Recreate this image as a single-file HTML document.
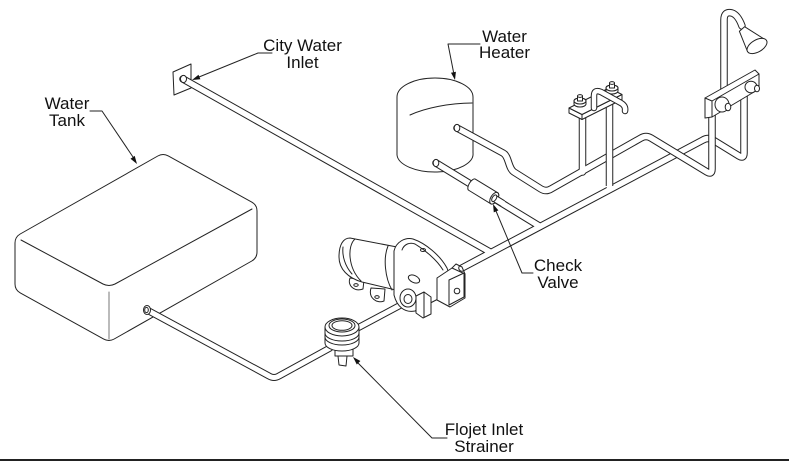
<!DOCTYPE html>
<html><head><meta charset="utf-8"><style>
html,body{margin:0;padding:0;background:#fff;}
svg{display:block;}
text{font-family:"Liberation Sans",Arial,sans-serif;font-size:17px;fill:#111;}
</style></head><body>
<svg width="789" height="463" viewBox="0 0 789 463" xmlns="http://www.w3.org/2000/svg">
<g fill="none" stroke="#222" stroke-width="1" stroke-linejoin="round" stroke-linecap="round">

<!-- Water tank -->
<path fill="#fff" d="M20.2 234 L157.8 156 Q163 153 168.3 155.9 L251.7 202.1 Q257 205 257 211 L257 252 Q257 258 251.8 261 L114.2 339 Q109 342 103.7 339.1 L20.3 292.9 Q15 290 15 284 L15 243 Q15 237 20.2 234 Z"/>
<path d="M21 240 L103 284 Q109 287 115 284 L252 209"/>
<path stroke="#777" d="M109 292 L109 339"/>

<!-- tank outlet pipe -->
<path stroke="#222" stroke-width="7" d="M147 310 L269 376 Q274 379 279 376 L330 348"/>
<path stroke="#fff" stroke-width="5" d="M147 310 L269 376 Q274 379 279 376 L330 348"/>
<ellipse cx="147" cy="310" rx="3.5" ry="4.5" fill="#fff"/>
<ellipse cx="146.5" cy="310" rx="1.8" ry="2.6"/>

<!-- strainer to pump pipe -->
<path stroke="#222" stroke-width="7" d="M352 331 L412 299"/>
<path stroke="#fff" stroke-width="5" d="M352 331 L412 299"/>

<!-- city inlet plate -->
<path fill="#fff" d="M173 72 L191 64 L191 88 L174 95 Z"/>

<!-- water heater -->
<path fill="#fff" d="M397 97 A38 19 0 0 1 473 97 L473 153 A38 18 0 0 1 397 155 Z"/>
<path d="M410 115 C425 108 450 103 472 103"/>

<!-- cold network -->
<g stroke="#222" stroke-width="7.5">
<path d="M183 79 L490 252"/>
<path d="M462 268 L703 140 Q708 137 713 140 L739 156 Q744 159 744 153 L744 92"/>
<path d="M436 163 L540 226.5"/>
</g>
<g stroke="#fff" stroke-width="5.5">
<path d="M183 79 L490 252"/>
<path d="M462 268 L703 140 Q708 137 713 140 L739 156 Q744 159 744 153 L744 92"/>
<path d="M436 163 L540 226.5"/>
</g>
<ellipse cx="183.5" cy="79" rx="3" ry="3.6" fill="#fff"/>
<ellipse cx="436" cy="163" rx="2.8" ry="3.6" fill="#fff"/>

<!-- check valve -->
<g transform="translate(484,192) rotate(31.4)">
<path fill="#fff" d="M-14 -6.5 L12 -6.5 A3.5 6.5 0 0 1 12 6.5 L-14 6.5 A3 6.5 0 0 1 -14 -6.5 Z"/>
<ellipse cx="12" cy="0" rx="3.5" ry="6.5" fill="#fff"/>
<path stroke="#222" stroke-width="7.5" stroke-linecap="butt" d="M12 0 L22 0"/>
<path stroke="#fff" stroke-width="5.5" stroke-linecap="butt" d="M11 0 L23 0"/>
<ellipse cx="12" cy="0" rx="2" ry="3.7" fill="#fff"/>
</g>

<!-- hot network -->
<g stroke="#222" stroke-width="7.5">
<path d="M457 128 L503 153 C509 156 508 168 514 172 L541 189 Q546 192 551 189 L641 138 Q646 135 651 138 L707 172 Q712 175 712 169 L712 115"/>
<path d="M582.5 116 L582.5 172"/>
</g>
<g stroke="#fff" stroke-width="5.5">
<path d="M457 128 L503 153 C509 156 508 168 514 172 L541 189 Q546 192 551 189 L641 138 Q646 135 651 138 L707 172 Q712 175 712 169 L712 115"/>
<path d="M582.5 116 L582.5 172"/>
</g>
<ellipse cx="457" cy="128" rx="2.8" ry="3.6" fill="#fff"/>

<!-- faucet cold vertical (in front of hot line) -->
<path stroke="#222" stroke-width="7.5" stroke-linecap="butt" d="M609.5 104 L609.5 186"/>
<path stroke="#fff" stroke-width="5.5" stroke-linecap="butt" d="M609.5 104 L609.5 188.5"/>

<!-- sink faucet -->
<path fill="#fff" d="M569 108 L582 114.5 L582 119.5 L569 113 Z"/>
<path fill="#fff" d="M582 114.5 L622 94.5 L622 99.5 L582 119.5 Z"/>
<path fill="#fff" d="M569 108 L609 88 L622 94.5 L582 114.5 Z"/>
<path fill="#fff" d="M574 104 L574 101 A6 3 0 0 1 586 101 L586 104 A6 3 0 0 1 574 104 Z"/>
<ellipse cx="580" cy="101" rx="6" ry="3" fill="#fff"/>
<path fill="#fff" d="M577.5 101 L577.5 96 L582.5 96 L582.5 101 Z"/>
<ellipse cx="580" cy="96" rx="2.5" ry="1.4" fill="#fff"/>
<path fill="#fff" d="M606 91 L606 88 A6 3 0 0 1 618 88 L618 91 A6 3 0 0 1 606 91 Z"/>
<ellipse cx="612" cy="88" rx="6" ry="3" fill="#fff"/>
<path fill="#fff" d="M609.5 88 L609.5 83 L614.5 83 L614.5 88 Z"/>
<ellipse cx="612" cy="83" rx="2.5" ry="1.4" fill="#fff"/>
<path stroke="#222" stroke-width="6.5" d="M594 108 L594 96 Q594 89 601 92 L621 103 Q626 106 625 111"/>
<path stroke="#fff" stroke-width="4.5" d="M594 108 L594 96 Q594 89 601 92 L621 103 Q626 106 625 111"/>

<!-- shower riser and head -->
<path stroke="#222" stroke-width="7.5" d="M724 100 L724 20 Q724 11 732 13 Q738 15 742 26"/>
<path stroke="#fff" stroke-width="5.5" d="M724 100 L724 20 Q724 11 732 13 Q738 15 742 26"/>
<path fill="#fff" d="M744.6 26.7 L766.5 40.5 L747.5 51.5 L739.4 31.3 Z"/>
<ellipse cx="757" cy="46" rx="11" ry="6" transform="rotate(-30 757 46)" fill="#fff"/>

<!-- shower valve plate -->
<path fill="#fff" d="M705 98 L755 70 L759 74 L759 89 L712 117 L705 118 Z"/>
<path d="M705 98 L712 101 L759 74 M712 101 L712 117"/>
<ellipse cx="722" cy="104.5" rx="7" ry="7.5" fill="#fff"/>
<ellipse cx="728" cy="107" rx="2.8" ry="3.8" fill="#fff"/>
<ellipse cx="751" cy="87" rx="6" ry="5.8" fill="#fff"/>
<ellipse cx="757" cy="88.5" rx="2.5" ry="3.3" fill="#fff"/>

<!-- pump -->
<path fill="#fff" d="M350 278 C347 286 355 292 363 289 L364 280 Z"/>
<ellipse cx="356" cy="285" rx="2.2" ry="1.4"/>
<path fill="#fff" d="M371 288 C368 298 377 304 384 301 L385 289 Z"/>
<ellipse cx="377" cy="297" rx="2.2" ry="1.4"/>
<path fill="#fff" d="M350 238 L397 247 L400 291 L362 282 C348 278 339 269 339 257 C339 245 343 238 350 238 Z"/>
<path d="M355 239 C347 246 348 268 361 281"/>
<path d="M343 247 C342 256 345 266 352 274"/>
<path d="M388 246 C383 258 385 278 392 290"/>
<path fill="#fff" d="M394 251 C396 242 405 237 413 239 C425 243 440 255 447 268 C451 278 448 290 440 298 L415 311 C405 313 397 307 394 295 Z"/>
<path d="M402 250 C404 244 410 242 415 244 C425 250 437 260 443 270"/>
<ellipse cx="423" cy="250" rx="2.5" ry="1.5"/>
<ellipse cx="414" cy="279" rx="6" ry="3.5" transform="rotate(25 414 279)" fill="#fff"/>
<ellipse cx="408" cy="298" rx="8" ry="9" fill="#fff"/>
<ellipse cx="408" cy="299" rx="4" ry="4.5"/>
<path fill="#fff" d="M416 296 L424 292 L431 297 L431 314 L423 318 L416 313 Z"/>
<path d="M424 292 L424 317"/>
<path fill="#fff" d="M437 278 L452 268 L465 274 L465 298 L450 307 L437 300 Z"/>
<path fill="#fff" d="M449 280 L464 273 L464 297 L449 305 Z"/>
<circle cx="457" cy="291" r="2.8"/>
<path d="M452 268 L456 264 L462 267 L465 274"/>

<!-- strainer -->
<path fill="#fff" d="M335 343 L353 343 L353 356 L335 356 Z"/>
<path fill="#fff" d="M338 356 L347 356 L346 366 L339 365 Z"/>
<path fill="#fff" d="M325 327 L325 343 A17 8 0 0 0 359 343 L359 327 Z"/>
<path d="M325 333 A17 8 0 0 0 359 333 M325 337 A17 8 0 0 0 359 337"/>
<ellipse cx="342" cy="327" rx="17" ry="9" fill="#fff"/>
<ellipse cx="342" cy="325.5" rx="13" ry="6.5"/>
<ellipse cx="342" cy="325.5" rx="10" ry="4.8"/>

<!-- leaders -->
<path d="M272 53 L258 53 L199 77"/>
<path d="M90 111 L102 111 L133 157"/>
<path d="M480 44 L448 44 L453.5 72"/>
<path d="M533 273 L522 273 L496 211"/>
<path d="M447 438 L432 438 L358 363"/>
</g>

<g fill="#111" stroke="none">
<polygon points="192,80 198.5,74.7 200.4,79.3"/>
<polygon points="137,164 130.5,158.7 134.7,155.9"/>
<polygon points="455,80 451,72.7 455.9,71.7"/>
<polygon points="493,204 498.4,210.4 493.8,212.4"/>
<polygon points="353,357 360.4,361 356.8,364.5"/>
</g>

<text x="302.5" y="51" text-anchor="middle">City Water</text>
<text x="302.5" y="68" text-anchor="middle">Inlet</text>
<text x="67" y="109" text-anchor="middle">Water</text>
<text x="67" y="126" text-anchor="middle">Tank</text>
<text x="504.5" y="42" text-anchor="middle">Water</text>
<text x="504.5" y="58" text-anchor="middle">Heater</text>
<text x="558" y="271" text-anchor="middle">Check</text>
<text x="558" y="288" text-anchor="middle">Valve</text>
<text x="484" y="435" text-anchor="middle">Flojet Inlet</text>
<text x="484" y="452" text-anchor="middle">Strainer</text>

<rect x="0" y="459" width="789" height="2" fill="#222"/>
</svg>
</body></html>
